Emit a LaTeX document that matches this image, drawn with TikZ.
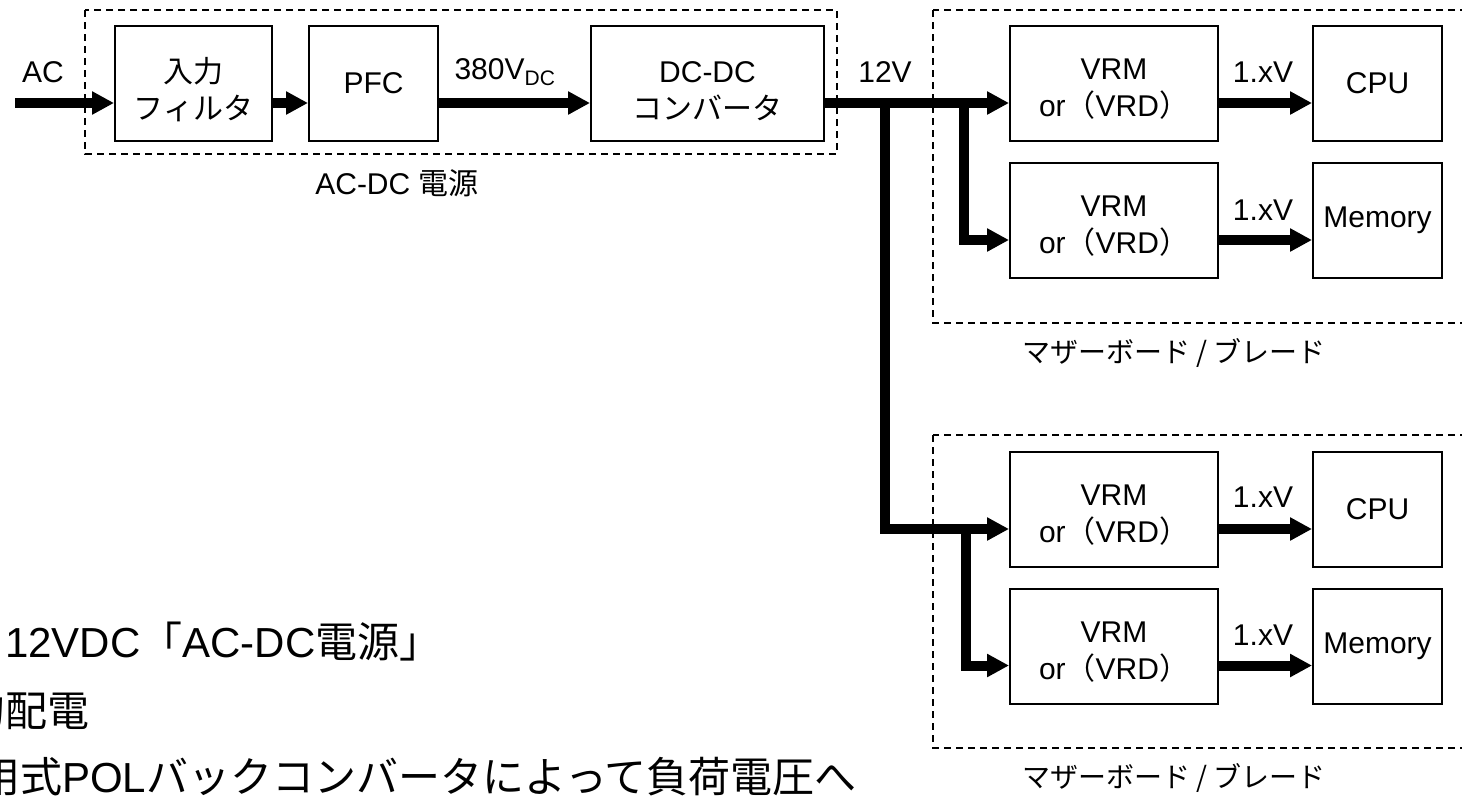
\documentclass[tikz,border=0pt]{standalone}
\usepackage{fontspec}
\setmainfont{Liberation Sans}
\newfontfamily\jp{Noto Sans CJK JP}
\usetikzlibrary{arrows,arrows.meta,positioning,fit}
\newcommand{\lift}[1]{\rule{0pt}{#1}}

\begin{document}
\begin{tikzpicture}[x=1pt,y=-1pt]
\tikzstyle{blk}=[draw=black,line width=2pt,inner sep=0pt,align=center,
minimum height=115pt,node distance=137pt,
font=\fontsize{30}{37}\selectfont]
\tikzstyle{grp}=[draw=black,line width=1.5pt,dash pattern=on 7pt off 5pt]
\tikzstyle{pwr}=[line width=10pt,-{Triangle[length=22pt,width=22pt]}]
\tikzstyle{lbl}=[inner sep=0pt,font=\fontsize{30}{32}\selectfont]
\tikzstyle{note}=[inner sep=0pt,anchor=base west,font=\fontsize{42}{44}\selectfont]

\useasboundingbox (0,0) rectangle (1462,796);
\clip (0,0) rectangle (1462,796);

% power supply
\draw[grp] (85,10) rectangle (837,154);
\node[blk,minimum width=157pt] at (193.5,83.5) (filt) {\lift{38pt}{\jp 入力}\\{\jp フィルタ}};
\node[blk,minimum width=129pt] at (373.5,83.5) (pfc) {PFC};
\node[blk,minimum width=233pt] at (707.5,83.5) (dcdc) {\lift{37pt}DC-DC\\{\jp コンバータ}};
\node[lbl] at (397,183) (acdc) {AC-DC {\jp 電源}};

% boards
\draw[grp] (933,10) rectangle (1475,323);
\node[blk,minimum width=208pt] at (1114,83.5) (vrmA) {\lift{32pt}VRM\\or{\jp （}VRD{\jp ）}};
\node[blk,minimum width=208pt,below of =vrmA] (vrmB) {\lift{32pt}VRM\\or{\jp （}VRD{\jp ）}};
\node[blk,minimum width=129pt] at (1377.5,83.5) (cpuA) {CPU};
\node[blk,minimum width=129pt,below of =cpuA] (memA) {Memory};
\node[lbl,font=\jp\fontsize{28}{30}\selectfont] at (1174,353) (mbA) {マザーボード / ブレード};

\draw[grp] (933,435) rectangle (1475,748);
\node[blk,minimum width=208pt] at (1114,509) (vrmC) {\lift{32pt}VRM\\or{\jp （}VRD{\jp ）}};
\node[blk,minimum width=208pt,below of =vrmC] (vrmD) {\lift{32pt}VRM\\or{\jp （}VRD{\jp ）}};
\node[blk,minimum width=129pt] at (1377.5,509) (cpuC) {CPU};
\node[blk,minimum width=129pt,below of =cpuC] (memC) {Memory};
\node[lbl,font=\jp\fontsize{28}{30}\selectfont] at (1174,778) (mbC) {マザーボード / ブレード};

% voltages
\node[lbl] at (43,72) (ac) {AC};
\node[lbl] at (505,72) (v380) {380V\textsubscript{DC}};
\node[lbl] at (885,72) (v12) {12V};
\node[lbl] at (1263,72) (vA) {1.xV};
\node[lbl] at (1263,210) (vB) {1.xV};
\node[lbl] at (1263,497) (vC) {1.xV};
\node[lbl] at (1263,635) (vD) {1.xV};

\coordinate (in) at (15,103);
\coordinate (tap1) at (885,103);
\coordinate (tap2) at (964,103);
\coordinate (tap3) at (966,529);

\draw[pwr] (in) -- ([yshift=-19.5pt]filt.west);
\draw[pwr] ([yshift=-19.5pt]filt.east) -- ([yshift=-19.5pt]pfc.west);
\draw[pwr] ([yshift=-19.5pt]pfc.east) -- ([yshift=-19.5pt]dcdc.west);
\draw[pwr] ([yshift=-19.5pt]dcdc.east) -- ([yshift=-19.5pt]vrmA.west);
\draw[pwr] (tap2) |- ([yshift=-19.5pt]vrmB.west);
\draw[pwr] (tap1) |- ([yshift=-20pt]vrmC.west);
\draw[pwr] (tap3) |- ([yshift=-19.5pt]vrmD.west);
\draw[pwr] ([yshift=-19.5pt]vrmA.east) -- ([yshift=-19.5pt]cpuA.west);
\draw[pwr] ([yshift=-19.5pt]vrmB.east) -- ([yshift=-19.5pt]memA.west);
\draw[pwr] ([yshift=-20pt]vrmC.east) -- ([yshift=-20pt]cpuC.west);
\draw[pwr] ([yshift=-19.5pt]vrmD.east) -- ([yshift=-19.5pt]memC.west);

% notes
\node[note] at (5,657) (n1) {12VDC{\jp 「}AC-DC{\jp 電源」}};
\node[note] at (-37,726) (n2) {\jp 的配電};
\node[note] at (-22,792) (n3) {{\jp 用式}POL{\jp バックコンバータによって負荷電圧へ}};

\end{tikzpicture}
\end{document}
